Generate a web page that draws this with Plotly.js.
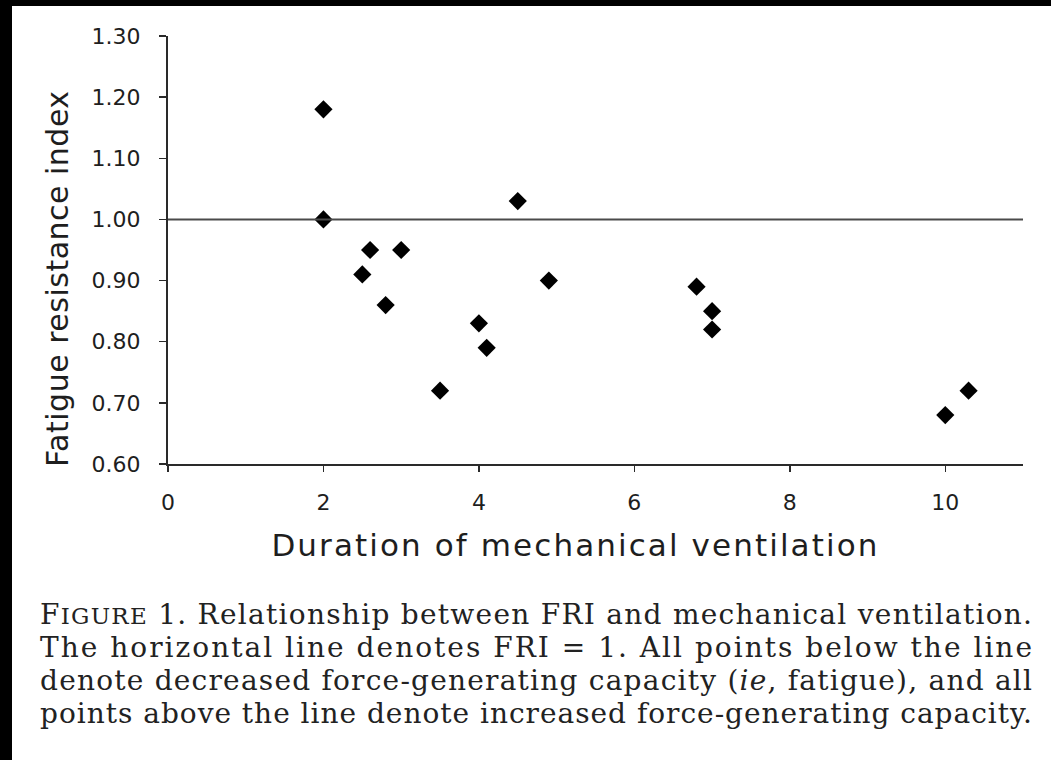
<!DOCTYPE html>
<html>
<head>
<meta charset="utf-8">
<script src="https://cdn.plot.ly/plotly-3.0.1.min.js"></script>
<style>
  html, body { margin: 0; padding: 0; background: #000; width: 1051px; height: 760px; overflow: hidden; }
  #chart { position: absolute; left: 12px; top: 6px; width: 1039px; height: 754px; background: #fff; }
</style>
</head>
<body>
<div id="chart"></div>
<script>
// ---- data ----
const durationMV = [2.0, 2.0, 2.5, 2.6, 2.8, 3.0, 3.5, 4.0, 4.1, 4.5, 4.9, 6.8, 7.0, 7.0, 10.0, 10.3];
const fatigueRI  = [1.18, 1.00, 0.91, 0.95, 0.86, 0.95, 0.72, 0.83, 0.79, 1.03, 0.90, 0.89, 0.85, 0.82, 0.68, 0.72];
const xTickVals = [0, 2, 4, 6, 8, 10];
const yTickVals = [0.60, 0.70, 0.80, 0.90, 1.00, 1.10, 1.20, 1.30];
const yTickText = ['0.60', '0.70', '0.80', '0.90', '1.00', '1.10', '1.20', '1.30'];
const refFRI = 1.0;
const xAxisTitle = 'Duration of mechanical ventilation';
const yAxisTitle = 'Fatigue resistance index';
const captionLines = [
  'F<span style="font-size:23px">IGURE</span> 1. Relationship between FRI and mechanical ventilation.',
  'The horizontal line denotes FRI = 1. All points below the line',
  'denote decreased force-generating capacity (<i>ie</i>, fatigue), and all',
  'points above the line denote increased force-generating capacity.'
];

const sansFont = 'DejaVu Sans, sans-serif';
const serifFont = 'DejaVu Serif, serif';
const ink = '#1e1e1e';

const trace = {
  type: 'scatter', mode: 'markers',
  x: durationMV, y: fatigueRI,
  marker: { symbol: 'diamond', size: 14, color: '#000', line: { width: 0 } },
  hoverinfo: 'skip', showlegend: false
};

const capY = [-0.3528, -0.4299, -0.5070, -0.5818];
const annotations = [
  { text: yAxisTitle, xref: 'paper', yref: 'paper', x: -0.1298, y: 0.432, xanchor: 'center', yanchor: 'middle',
    textangle: -90, showarrow: false, font: { family: sansFont, size: 30, color: ink } },
  { text: xAxisTitle, xref: 'paper', yref: 'paper', x: 0.4749, y: -0.189, xanchor: 'center', yanchor: 'middle',
    showarrow: false, font: { family: sansFont, size: 31, color: ink } }
];
captionLines.forEach((t, i) => annotations.push({
  text: t, xref: 'paper', yref: 'paper', x: -0.152, y: capY[i], xanchor: 'left', yanchor: 'middle', align: 'left',
  showarrow: false, font: { family: serifFont, size: 28, color: '#222' }
}));

const layout = {
  width: 1039, height: 754,
  margin: { l: 156, r: 28, t: 30, b: 296 },
  paper_bgcolor: '#fff', plot_bgcolor: '#fff',
  showlegend: false,
  xaxis: {
    range: [0, 11], tickvals: xTickVals, ticktext: xTickVals.map(String),
    showgrid: false, zeroline: false, showline: true, linecolor: '#2a2a2a', linewidth: 2,
    ticks: 'outside', ticklen: 6, tickwidth: 1.5, tickcolor: '#2a2a2a',
    tickfont: { family: sansFont, size: 22, color: ink }, ticklabelstandoff: 12
  },
  yaxis: {
    range: [0.6, 1.3], tickvals: yTickVals, ticktext: yTickText,
    showgrid: false, zeroline: false, showline: true, linecolor: '#2a2a2a', linewidth: 2,
    ticks: 'outside', ticklen: 7, tickwidth: 1.5, tickcolor: '#2a2a2a',
    tickfont: { family: sansFont, size: 22, color: ink }, ticklabelstandoff: 14
  },
  shapes: [
    { type: 'line', xref: 'x', yref: 'y', x0: 0, x1: 11, y0: refFRI, y1: refFRI,
      line: { color: '#4a4a4a', width: 2 } }
  ],
  annotations: annotations
};

Plotly.newPlot('chart', [trace], layout, { displayModeBar: false, staticPlot: true }).then(() => {
  // justify caption lines and set title widths like the printed figure
  const texts = document.querySelectorAll('#chart .annotation-text');
  texts.forEach(el => {
    const s = el.textContent;
    if (s.indexOf('Duration') === 0) { el.setAttribute('textLength', '606'); el.setAttribute('lengthAdjust', 'spacing'); return; }
    if (s.indexOf('Fatigue') === 0) { el.setAttribute('textLength', '376'); el.setAttribute('lengthAdjust', 'spacing'); return; }
    el.setAttribute('textLength', '992');
    el.setAttribute('lengthAdjust', 'spacing');
  });
});
</script>
</body>
</html>
